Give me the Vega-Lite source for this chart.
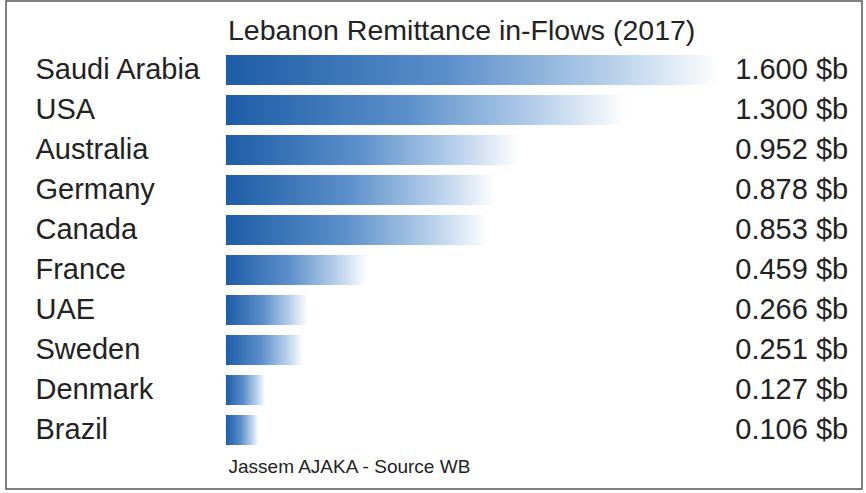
{
  "$schema": "https://vega.github.io/schema/vega-lite/v6.json",
  "width": 856,
  "height": 488,
  "autosize": {"type": "none"},
  "padding": {"left": 6, "top": 1, "right": 4, "bottom": 4},
  "background": "white",
  "title": {
    "text": "Lebanon Remittance in-Flows (2017)",
    "anchor": "start",
    "frame": "group",
    "dx": 222,
    "dy": 30,
    "offset": -37,
    "baseline": "alphabetic",
    "font": "Liberation Sans",
    "fontSize": 28.5,
    "fontWeight": "normal",
    "color": "#222222"
  },
  "data": {
    "values": [
      {"country": "Saudi Arabia", "value": 1.6},
      {"country": "USA", "value": 1.3},
      {"country": "Australia", "value": 0.952},
      {"country": "Germany", "value": 0.878},
      {"country": "Canada", "value": 0.853},
      {"country": "France", "value": 0.459},
      {"country": "UAE", "value": 0.266},
      {"country": "Sweden", "value": 0.251},
      {"country": "Denmark", "value": 0.127},
      {"country": "Brazil", "value": 0.106}
    ]
  },
  "encoding": {
    "y": {
      "field": "country",
      "type": "nominal",
      "sort": null,
      "scale": {"range": [49, 449], "paddingInner": 0.25, "paddingOuter": 0.125},
      "axis": {
        "orient": "left",
        "offset": -29,
        "domain": false,
        "ticks": false,
        "tickSize": 0,
        "grid": false,
        "title": null,
        "labelAlign": "left",
        "labelBaseline": "middle",
        "labelPadding": 0,
        "labelFont": "Liberation Sans",
        "labelFontSize": 29,
        "labelColor": "#222222"
      }
    }
  },
  "layer": [
    {
      "mark": {
        "type": "bar",
        "color": {
          "gradient": "linear",
          "x1": 0, "y1": 0, "x2": 1, "y2": 0,
          "stops": [
            {"offset": 0, "color": "#1d5ca7"},
            {"offset": 0.45, "color": "#5b8fca"},
            {"offset": 0.8, "color": "#bcd3ec"},
            {"offset": 1, "color": "#ffffff"}
          ]
        }
      },
      "encoding": {
        "x": {
          "field": "value",
          "type": "quantitative",
          "scale": {"domain": [-0.714, 2.065], "nice": false, "zero": false},
          "axis": {
            "orient": "bottom",
            "domain": false,
            "ticks": false,
            "labels": false,
            "grid": false,
            "title": "Jassem AJAKA - Source WB",
            "titleX": 222,
            "titleY": -17,
            "titleAlign": "left",
            "titleAnchor": null,
            "titleBaseline": "alphabetic",
            "titleFont": "Liberation Sans",
            "titleFontSize": 19,
            "titleFontWeight": "normal",
            "titleColor": "#222222"
          }
        },
        "x2": {"datum": 0}
      }
    },
    {
      "transform": [{"calculate": "format(datum.value, '.3f') + ' $b'", "as": "label"}],
      "mark": {
        "type": "text",
        "align": "right",
        "baseline": "middle",
        "font": "Liberation Sans",
        "fontSize": 29,
        "color": "#222222"
      },
      "encoding": {
        "x": {"datum": 2.02},
        "text": {"field": "label"}
      }
    }
  ],
  "config": {
    "view": {"stroke": "#555555", "strokeWidth": 1.5}
  }
}
